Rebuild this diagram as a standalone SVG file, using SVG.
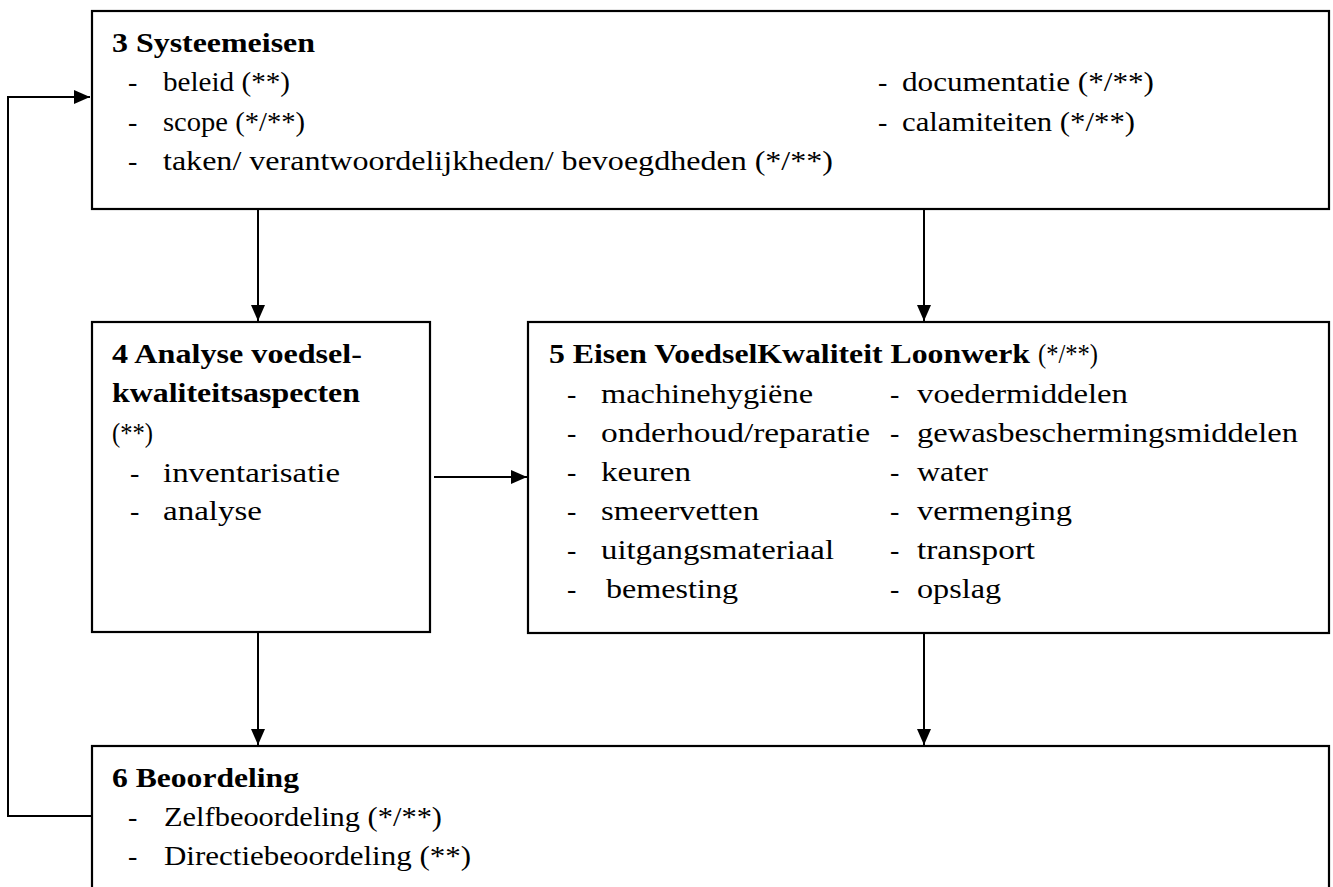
<svg xmlns="http://www.w3.org/2000/svg" width="1333" height="887" viewBox="0 0 1333 887">
<style>
.box{fill:#fff;stroke:#000;stroke-width:2.2}
.t{font-family:"Liberation Serif","Times New Roman",serif;font-size:28px;fill:#000}
.b{font-weight:bold}
.c{fill:none;stroke:#000;stroke-width:2}
</style>
<defs>
<marker id="ah" markerUnits="userSpaceOnUse" markerWidth="16" markerHeight="14" refX="16" refY="7" orient="auto">
<path d="M0,0 L16,7 L0,14 z" fill="#000"/>
</marker>
</defs>
<rect x="0" y="0" width="1333" height="887" fill="#fff"/>
<g id="connectors">
<path class="c" d="M258,209 V321" marker-end="url(#ah)"/>
<path class="c" d="M924,209 V321" marker-end="url(#ah)"/>
<path class="c" d="M434,477 H527" marker-end="url(#ah)"/>
<path class="c" d="M258,632 V745" marker-end="url(#ah)"/>
<path class="c" d="M924,633 V745" marker-end="url(#ah)"/>
<path class="c" d="M92,816 H8 V97 H90" marker-end="url(#ah)"/>
</g>
<g id="n3">
<rect class="box" x="92" y="11" width="1237" height="198"/>
<text class="t b" x="112" y="52" textLength="203" lengthAdjust="spacingAndGlyphs">3 Systeemeisen</text>
<text class="t" x="128" y="91">-</text>
<text class="t" x="163" y="91" textLength="127" lengthAdjust="spacingAndGlyphs">beleid (**)</text>
<text class="t" x="128" y="131">-</text>
<text class="t" x="163" y="131" textLength="142" lengthAdjust="spacingAndGlyphs">scope (*/**)</text>
<text class="t" x="128" y="170">-</text>
<text class="t" x="163" y="170" textLength="670" lengthAdjust="spacingAndGlyphs">taken/ verantwoordelijkheden/ bevoegdheden (*/**)</text>
<text class="t" x="878" y="91">-</text>
<text class="t" x="902" y="91" textLength="252" lengthAdjust="spacingAndGlyphs">documentatie (*/**)</text>
<text class="t" x="878" y="131">-</text>
<text class="t" x="902" y="131" textLength="233" lengthAdjust="spacingAndGlyphs">calamiteiten (*/**)</text>
</g>
<g id="n4">
<rect class="box" x="92" y="322" width="338" height="310"/>
<text class="t b" x="112" y="363" textLength="250" lengthAdjust="spacingAndGlyphs">4 Analyse voedsel-</text>
<text class="t b" x="112" y="402" textLength="248" lengthAdjust="spacingAndGlyphs">kwaliteitsaspecten</text>
<text class="t" x="112" y="442" textLength="41" lengthAdjust="spacingAndGlyphs">(**)</text>
<text class="t" x="130" y="482">-</text>
<text class="t" x="163" y="482" textLength="177" lengthAdjust="spacingAndGlyphs">inventarisatie</text>
<text class="t" x="130" y="520">-</text>
<text class="t" x="163" y="520" textLength="99" lengthAdjust="spacingAndGlyphs">analyse</text>
</g>
<g id="n5">
<rect class="box" x="528" y="322" width="801" height="311"/>
<text class="t b" x="549" y="363" textLength="481" lengthAdjust="spacingAndGlyphs">5 Eisen VoedselKwaliteit Loonwerk</text>
<text class="t" x="1038" y="363" textLength="60" lengthAdjust="spacingAndGlyphs">(*/**)</text>
<text class="t" x="567" y="403">-</text>
<text class="t" x="601" y="403" textLength="212" lengthAdjust="spacingAndGlyphs">machinehygiëne</text>
<text class="t" x="567" y="442">-</text>
<text class="t" x="601" y="442" textLength="269" lengthAdjust="spacingAndGlyphs">onderhoud/reparatie</text>
<text class="t" x="567" y="481">-</text>
<text class="t" x="601" y="481" textLength="90" lengthAdjust="spacingAndGlyphs">keuren</text>
<text class="t" x="567" y="520">-</text>
<text class="t" x="601" y="520" textLength="158" lengthAdjust="spacingAndGlyphs">smeervetten</text>
<text class="t" x="567" y="559">-</text>
<text class="t" x="601" y="559" textLength="233" lengthAdjust="spacingAndGlyphs">uitgangsmateriaal</text>
<text class="t" x="567" y="598">-</text>
<text class="t" x="606" y="598" textLength="132" lengthAdjust="spacingAndGlyphs">bemesting</text>
<text class="t" x="890" y="403">-</text>
<text class="t" x="917" y="403" textLength="211" lengthAdjust="spacingAndGlyphs">voedermiddelen</text>
<text class="t" x="890" y="442">-</text>
<text class="t" x="917" y="442" textLength="381" lengthAdjust="spacingAndGlyphs">gewasbeschermingsmiddelen</text>
<text class="t" x="890" y="481">-</text>
<text class="t" x="917" y="481" textLength="71" lengthAdjust="spacingAndGlyphs">water</text>
<text class="t" x="890" y="520">-</text>
<text class="t" x="917" y="520" textLength="155" lengthAdjust="spacingAndGlyphs">vermenging</text>
<text class="t" x="890" y="559">-</text>
<text class="t" x="917" y="559" textLength="118" lengthAdjust="spacingAndGlyphs">transport</text>
<text class="t" x="890" y="598">-</text>
<text class="t" x="917" y="598" textLength="84" lengthAdjust="spacingAndGlyphs">opslag</text>
</g>
<g id="n6">
<rect class="box" x="92" y="746" width="1237" height="160"/>
<text class="t b" x="112" y="787" textLength="187" lengthAdjust="spacingAndGlyphs">6 Beoordeling</text>
<text class="t" x="128" y="826">-</text>
<text class="t" x="164" y="826" textLength="278" lengthAdjust="spacingAndGlyphs">Zelfbeoordeling (*/**)</text>
<text class="t" x="128" y="865">-</text>
<text class="t" x="164" y="865" textLength="307" lengthAdjust="spacingAndGlyphs">Directiebeoordeling (**)</text>
</g>
</svg>
